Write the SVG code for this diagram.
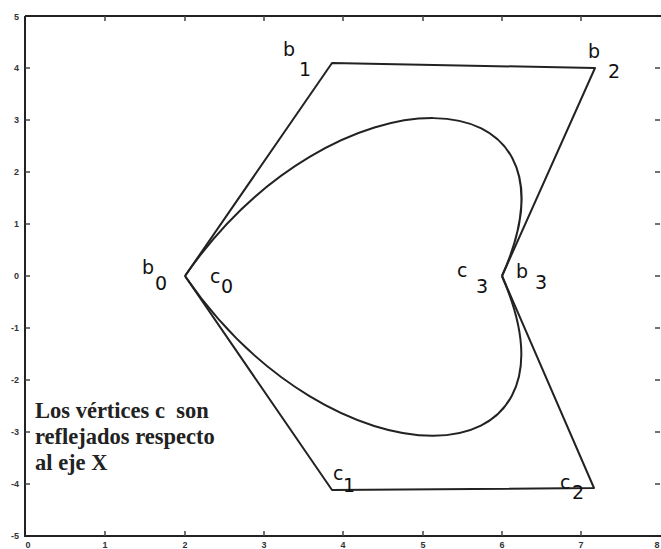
<svg xmlns="http://www.w3.org/2000/svg" width="661" height="549" viewBox="0 0 661 549">
<style>
.ax{stroke:#222;stroke-width:2;fill:none}
.tk{stroke:#444;stroke-width:1.5;fill:none}
.ln{stroke:#222;stroke-width:2;fill:none;stroke-linejoin:round}
.tl{font-family:"Liberation Sans",Arial,sans-serif;font-size:9px;font-weight:bold;fill:#333}
.lb{font-family:"DejaVu Sans","Liberation Sans",sans-serif;font-size:19px;fill:#111}
.nt{font-family:"Liberation Serif","Times New Roman",serif;font-size:22.5px;font-weight:bold;fill:#222}
</style>
<rect width="661" height="549" fill="#fff"/>
<g id="axes">
<path class="ax" d="M25,16 V536 H661 M25,16 H661"/>
<path class="tk" d="M105,536v-5M185,536v-5M264,536v-5M343,536v-5M423,536v-5M502,536v-5M581,536v-5
M105,16v5M185,16v5M264,16v5M343,16v5M423,16v5M502,16v5M581,16v5
M25,68h5M25,120h5M25,172h5M25,224h5M25,276h5M25,328h5M25,380h5M25,432h5M25,484h5
M660,68h-5M660,120h-5M660,172h-5M660,224h-5M660,276h-5M660,328h-5M660,380h-5M660,432h-5M660,484h-5"/>
<g class="tl" text-anchor="end">
<text x="19" y="20">5</text>
<text x="19" y="71">4</text>
<text x="19" y="123">3</text>
<text x="19" y="175">2</text>
<text x="19" y="227">1</text>
<text x="19" y="279">0</text>
<text x="19" y="331">-1</text>
<text x="19" y="383">-2</text>
<text x="19" y="435">-3</text>
<text x="19" y="487">-4</text>
<text x="19" y="539">-5</text>
</g>
<g class="tl" text-anchor="middle">
<text x="28" y="548">0</text>
<text x="105" y="548">1</text>
<text x="185" y="548">2</text>
<text x="264" y="548">3</text>
<text x="343" y="548">4</text>
<text x="423" y="548">5</text>
<text x="502" y="548">6</text>
<text x="581" y="548">7</text>
<text x="657" y="548">8</text>
</g>
</g>
<g id="connectors">
<path id="polygon-b" class="ln" d="M185,276 L332,63 L595,68 L502,276"/>
<path id="polygon-c" class="ln" d="M185,276 L332,490 L594,488 L502,276"/>
<path id="curve-upper" class="ln" d="M185,276 C332,63 595,68 502,276"/>
<path id="curve-lower" class="ln" d="M185,276 C332,490 594,488 502,276"/>
</g>
<g id="b0" class="lb"><text x="142" y="274">b</text><text x="155" y="290">0</text></g>
<g id="b1" class="lb"><text x="283" y="56">b</text><text x="299" y="76">1</text></g>
<g id="b2" class="lb"><text x="588" y="58">b</text><text x="608" y="78">2</text></g>
<g id="b3" class="lb"><text x="516" y="278">b</text><text x="535" y="289">3</text></g>
<g id="c0" class="lb"><text x="210" y="283">c</text><text x="221" y="293">0</text></g>
<g id="c1" class="lb"><text x="333" y="480">c</text><text x="343" y="492">1</text></g>
<g id="c2" class="lb"><text x="560" y="489">c</text><text x="572" y="499">2</text></g>
<g id="c3" class="lb"><text x="457" y="277">c</text><text x="476" y="293">3</text></g>
<g id="note" class="nt">
<text x="35" y="418" xml:space="preserve">Los vértices c  son</text>
<text x="35" y="444">reflejados respecto</text>
<text x="35" y="470">al eje X</text>
</g>
</svg>
